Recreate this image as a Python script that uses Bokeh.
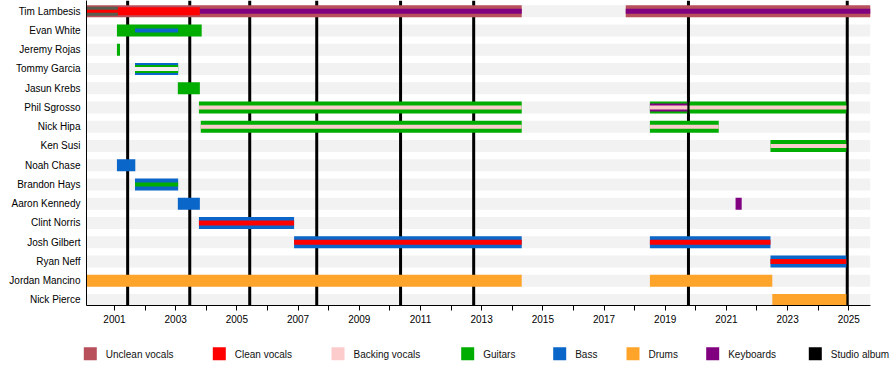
from bokeh.plotting import figure
from bokeh.models import Range1d, FixedTicker
from bokeh.layouts import column
from bokeh.embed import file_html
from bokeh.resources import INLINE
from bokeh.core.properties import value

# ---------------- data ----------------
members = ["Tim Lambesis", "Evan White", "Jeremy Rojas", "Tommy Garcia", "Jasun Krebs",
           "Phil Sgrosso", "Nick Hipa", "Ken Susi", "Noah Chase", "Brandon Hays",
           "Aaron Kennedy", "Clint Norris", "Josh Gilbert", "Ryan Neff",
           "Jordan Mancino", "Nick Pierce"]

period_start = 2000.085
period_end = 2025.71

major_years = list(range(2001, 2026, 2))
minor_years = list(range(2000, 2027, 2))

studio_albums = [2001.43, 2003.46, 2005.42, 2007.61, 2010.35, 2012.74, 2019.76, 2024.95]

# (member, start, end)
unclean_vocals = [("Tim Lambesis", 2000.085, 2014.31), ("Tim Lambesis", 2017.71, 2025.71)]
guitars_main = [("Evan White", 2001.08, 2003.85), ("Jeremy Rojas", 2001.08, 2001.18),
                ("Jasun Krebs", 2003.07, 2003.79),
                ("Phil Sgrosso", 2003.76, 2014.31), ("Phil Sgrosso", 2018.5, 2019.72),
                ("Phil Sgrosso", 2019.80, 2024.92),
                ("Nick Hipa", 2003.82, 2014.31), ("Nick Hipa", 2018.5, 2020.75),
                ("Ken Susi", 2022.44, 2024.92)]
bass_main = [("Tommy Garcia", 2001.67, 2003.08), ("Noah Chase", 2001.08, 2001.68),
             ("Brandon Hays", 2001.67, 2003.08), ("Aaron Kennedy", 2003.07, 2003.79),
             ("Clint Norris", 2003.76, 2006.87), ("Josh Gilbert", 2006.87, 2014.31),
             ("Josh Gilbert", 2018.5, 2022.44), ("Ryan Neff", 2022.44, 2024.92)]
drums_main = [("Jordan Mancino", 2000.085, 2014.31), ("Jordan Mancino", 2018.5, 2022.5),
              ("Nick Pierce", 2022.5, 2024.92)]
keyboards_main = [("Aaron Kennedy", 2021.3, 2021.5)]

# secondary roles (narrower bars)
tim_early = [("Tim Lambesis", 2000.085, 2001.11)]
clean_vocals_mid = [("Tim Lambesis", 2001.11, 2003.79)]
clean_vocals_early = [("Tim Lambesis", 2000.085, 2001.11)]
guitars_mid = [("Tommy Garcia", 2001.67, 2003.08)]
keyboards_mid = [("Phil Sgrosso", 2018.5, 2019.72)]
keyboards_thin = [("Tim Lambesis", 2003.79, 2014.31), ("Tim Lambesis", 2017.71, 2025.71)]
bass_thin = [("Evan White", 2001.67, 2003.08)]
tommy_center = [("Tommy Garcia", 2001.67, 2003.08)]
backing_thin = [("Phil Sgrosso", 2003.76, 2014.31), ("Phil Sgrosso", 2018.5, 2019.72),
                ("Phil Sgrosso", 2019.80, 2024.92),
                ("Nick Hipa", 2003.82, 2014.31), ("Nick Hipa", 2018.5, 2020.75),
                ("Ken Susi", 2022.44, 2024.92)]
guitars_thin = [("Brandon Hays", 2001.67, 2003.08)]
clean_vocals_thin = [("Clint Norris", 2003.76, 2006.87), ("Josh Gilbert", 2006.87, 2014.31),
                     ("Josh Gilbert", 2018.5, 2022.44), ("Ryan Neff", 2022.44, 2024.92)]

legend_labels = ["Unclean vocals", "Clean vocals", "Backing vocals", "Guitars",
                 "Bass", "Drums", "Keyboards", "Studio album"]

# ---------------- styles ----------------
C_UNCLEAN = "#b7505b"
C_CLEAN = "#ff0000"
C_BACKING = "#fccccc"
C_GUITARS = "#00ad00"
C_BASS = "#0a66c8"
C_DRUMS = "#ffa42a"
C_KEYS = "#800080"
C_ALBUM = "#000000"
C_ROW = "#f2f2f2"
legend_colors = [C_UNCLEAN, C_CLEAN, C_BACKING, C_GUITARS, C_BASS, C_DRUMS, C_KEYS, C_ALBUM]
FONT = "Liberation Sans"

Y0, Y1 = -0.286, 15.558
ypos = {m: len(members) - 1 - i for i, m in enumerate(members)}

p = figure(width=890, height=335, x_range=Range1d(period_start, period_end),
           y_range=Range1d(Y0, Y1), toolbar_location=None, output_backend="svg",
           min_border_left=86, min_border_right=20, min_border_top=0, min_border_bottom=30)
p.outline_line_color = None
p.xgrid.visible = False
p.ygrid.visible = False
p.background_fill_color = "white"
p.frame_align = False


def draw(items, color, width):
    ys = [ypos[m] for m, _, _ in items]
    p.segment(x0=[s for _, s, _ in items], y0=ys, x1=[e for _, _, e in items], y1=ys,
              line_color=color, line_width=width, line_cap="butt")


# row stripes
rows = [(m, period_start, period_end) for m in members]
draw(rows, C_ROW, 12)

# album lines
p.segment(x0=studio_albums, y0=[Y0] * len(studio_albums), x1=studio_albums,
          y1=[Y1] * len(studio_albums), line_color=C_ALBUM, line_width=3, line_cap="butt")

# main bars
draw(unclean_vocals, C_UNCLEAN, 12)
draw(guitars_main, C_GUITARS, 12)
draw(bass_main, C_BASS, 12)
draw(drums_main, C_DRUMS, 12)
draw(keyboards_main, C_KEYS, 12)

# secondary bars
draw(tim_early, "#585d4e", 9)
draw(clean_vocals_mid, C_CLEAN, 8)
draw(clean_vocals_early, C_CLEAN, 3)
draw(guitars_mid, C_GUITARS, 8)
draw(keyboards_mid, C_KEYS, 8)
draw(keyboards_thin, C_KEYS, 5)
draw(bass_thin, C_BASS, 4)
draw(tommy_center, "#f6eeee", 4)
draw(backing_thin, C_BACKING, 4)
draw(guitars_thin, C_GUITARS, 4)
draw(clean_vocals_thin, C_CLEAN, 5)

# axes
p.xaxis.ticker = FixedTicker(ticks=major_years, minor_ticks=minor_years)
p.xaxis.major_tick_out = 5
p.xaxis.major_tick_in = 0
p.xaxis.minor_tick_out = 5
p.xaxis.minor_tick_in = 0
p.xaxis.major_label_standoff = 4
p.xaxis.axis_line_color = "black"
p.xaxis.major_label_text_font = FONT
p.xaxis.major_label_text_font_size = "10px"
p.xaxis.major_label_text_color = "black"

p.yaxis.ticker = FixedTicker(ticks=list(range(len(members))))
p.yaxis.major_label_overrides = {ypos[m]: m for m in members}
p.yaxis.major_tick_out = 0
p.yaxis.major_tick_in = 0
p.yaxis.minor_tick_out = 0
p.yaxis.minor_tick_in = 0
p.yaxis.major_label_standoff = 6
p.yaxis.axis_line_color = "black"
p.yaxis.major_label_text_font = FONT
p.yaxis.major_label_text_font_size = "10px"
p.yaxis.major_label_text_color = "black"

# ---------------- legend ----------------
lg = figure(width=890, height=30, x_range=Range1d(0, 890), y_range=Range1d(365, 335),
            toolbar_location=None, output_backend="svg", min_border=0,
            x_axis_type=None, y_axis_type=None)
lg.outline_line_color = None
lg.xgrid.visible = False
lg.ygrid.visible = False
lg.frame_align = False

legend_x = [83.3, 212.3, 331.0, 460.7, 552.7, 626.0, 705.7, 808.3]
sw = 13
lg.quad(left=legend_x, right=[x + sw for x in legend_x], top=[346.7] * len(legend_x),
        bottom=[359.7] * len(legend_x), fill_color=legend_colors, line_color=None)
lg.text(x=[x + 22 for x in legend_x], y=[353.5] * len(legend_x), text=legend_labels,
        text_baseline="middle", text_align="left", text_font=value(FONT),
        text_font_size=value("10px"), text_color="#111111")

layout = column(p, lg)
open("out.html", "w").write(file_html(layout, INLINE))
